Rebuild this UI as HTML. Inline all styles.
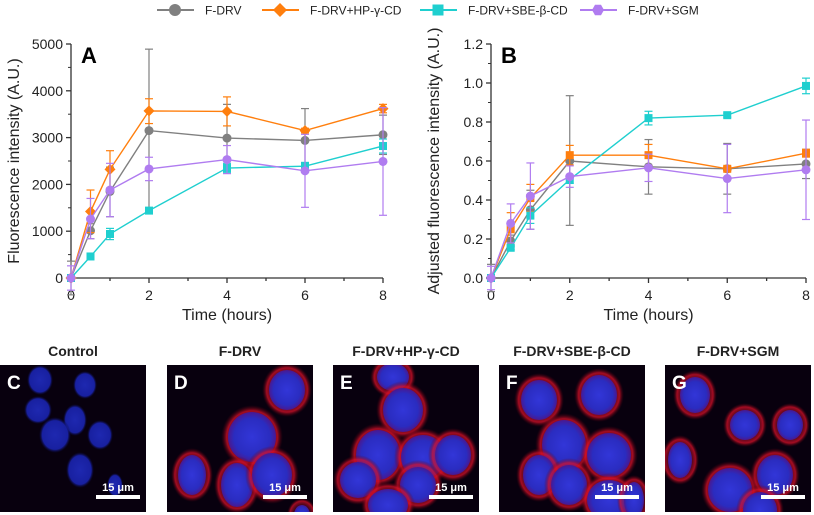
<!DOCTYPE html>
<html><head><meta charset="utf-8"><style>
html,body{margin:0;padding:0;background:#fff;width:814px;height:515px;overflow:hidden}
svg{display:block;font-family:"Liberation Sans",Arial,sans-serif}
</style></head><body>
<svg id="s" width="814" height="515" xmlns="http://www.w3.org/2000/svg">
<defs>
<radialGradient id="cb" cx="50%" cy="50%" r="50%"><stop offset="0" stop-color="#3236d8"/><stop offset="0.75" stop-color="#2a2cc0"/><stop offset="1" stop-color="#4a1890"/></radialGradient>
<radialGradient id="cr" cx="50%" cy="50%" r="50%"><stop offset="0.55" stop-color="#b01030" stop-opacity="0.3"/><stop offset="0.82" stop-color="#d81028" stop-opacity="0.75"/><stop offset="1" stop-color="#500010" stop-opacity="0"/></radialGradient>
<radialGradient id="cc" cx="50%" cy="50%" r="50%"><stop offset="0" stop-color="#1e28b0"/><stop offset="0.8" stop-color="#1820a0"/><stop offset="1" stop-color="#0a0a40" stop-opacity="0"/></radialGradient>
</defs>
</svg>
<script>
const s=document.getElementById('s');let h='';
const C={g:'#808080',o:'#ff7f0e',c:'#1fcfcf',p:'#b07cf0'};
function mk(type,x,y,col,r){r=r||5;
 if(type=='c')return `<circle cx="${x}" cy="${y}" r="${r}" fill="${col}"/>`;
 if(type=='d')return `<polygon points="${x},${y-r-1} ${x+r+1},${y} ${x},${y+r+1} ${x-r-1},${y}" fill="${col}"/>`;
 if(type=='s')return `<rect x="${x-r+0.5}" y="${y-r+0.5}" width="${2*r-1}" height="${2*r-1}" fill="${col}"/>`;
 if(type=='h'){let p=[];for(let i=0;i<6;i++){let a=Math.PI/3*i;p.push((x+r*Math.cos(a))+','+(y+r*Math.sin(a)))}return `<polygon points="${p.join(' ')}" fill="${col}"/>`;}
}
[[157,'c',C.g,'F-DRV'],[262,'d',C.o,'F-DRV+HP-γ-CD'],[420,'s',C.c,'F-DRV+SBE-β-CD'],[580,'h',C.p,'F-DRV+SGM']].forEach(l=>{
 h+=`<line x1="${l[0]}" y1="10" x2="${l[0]+37}" y2="10" stroke="${l[2]}" stroke-width="2"/>`+mk(l[1],l[0]+18,10,l[2],6);
 h+=`<text x="${l[0]+48}" y="14.5" font-size="12" fill="#222">${l[3]}</text>`;});
const T=[0,0.5,1,2,4,6,8];
function plot(x0,x1,ymax,ticks,dec,lab,letter,series,ylabel){
 const y0=278,y1=44;const X=t=>x0+(x1-x0)*t/8,Y=v=>y0-(y0-y1)*v/ymax;
 h+=`<line x1="${x0}" y1="${y1}" x2="${x0}" y2="${y0}" stroke="#333" stroke-width="1.3"/><line x1="${x0}" y1="${y0}" x2="${x1}" y2="${y0}" stroke="#333" stroke-width="1.3"/>`;
 ticks.forEach((v,i)=>{let y=Y(v);h+=`<line x1="${x0-5}" y1="${y}" x2="${x0}" y2="${y}" stroke="#333" stroke-width="1.3"/><text x="${x0-8}" y="${y+5}" font-size="14" text-anchor="end" fill="#222">${dec?v.toFixed(1):v}</text>`;
  if(i<ticks.length-1){let ym=Y(v+(ticks[1]-ticks[0])/2);h+=`<line x1="${x0-3}" y1="${ym}" x2="${x0}" y2="${ym}" stroke="#333"/>`;}});
 for(let t=0;t<=8;t++){let x=X(t);h+=`<line x1="${x}" y1="${y0}" x2="${x}" y2="${y0+(t%2?3:5)}" stroke="#333" stroke-width="1.3"/>`;if(t%2==0)h+=`<text x="${x}" y="${y0+22}" font-size="14" text-anchor="middle" fill="#222">${t}</text>`;}
 h+=`<text x="${(x0+x1)/2}" y="320" font-size="16" text-anchor="middle" fill="#222">Time (hours)</text>`;
 h+=`<text transform="translate(${x0-52},${(y0+y1)/2}) rotate(-90)" font-size="16" text-anchor="middle" fill="#222">${ylabel}</text>`;
 h+=`<text x="${x0+10}" y="${y1+19}" font-size="22" font-weight="bold" fill="#000">${letter}</text>`;
 series.forEach(sr=>{const [col,type,vals,err]=sr;
  vals.forEach((v,i)=>{let e=err[i];if(!e)return;let x=X(T[i]);h+=`<g stroke="${col}" stroke-width="1.2"><line x1="${x}" y1="${Y(v-e[0])}" x2="${x}" y2="${Y(v+e[1])}"/><line x1="${x-4}" y1="${Y(v-e[0])}" x2="${x+4}" y2="${Y(v-e[0])}"/><line x1="${x-4}" y1="${Y(v+e[1])}" x2="${x+4}" y2="${Y(v+e[1])}"/></g>`;});
  h+=`<polyline fill="none" stroke="${col}" stroke-width="1.4" points="${vals.map((v,i)=>X(T[i])+','+Y(v)).join(' ')}"/>`;
  vals.forEach((v,i)=>h+=mk(type,X(T[i]),Y(v),col,4.5));});
}
plot(71,383,5000,[0,1000,2000,3000,4000,5000],false,'','A',[
 [C.g,'c',[0,1010,1850,3150,2990,2940,3060],[[360,360],[170,150],[540,520],[1700,1740],[750,720],[680,680],[420,420]]],
 [C.o,'d',[0,1420,2320,3570,3560,3150,3620],[[50,50],[450,460],[400,400],[270,260],[310,310],[50,50],[90,90]]],
 [C.c,'s',[0,460,940,1440,2350,2390,2820],[[30,30],[40,40],[120,120],[40,40],[100,100],[80,80],[150,150]]],
 [C.p,'c',[0,1260,1880,2330,2530,2290,2490],[[260,260],[420,440],[570,570],[250,250],[300,300],[780,780],[1150,1150]]]
],'Fluorescence intensity (A.U.)');
plot(491,806,1.2,[0,0.2,0.4,0.6,0.8,1.0,1.2],true,'','B',[
 [C.g,'c',[0,0.19,0.35,0.6,0.57,0.56,0.585],[[0.07,0.07],[0.03,0.03],[0.1,0.1],[0.33,0.335],[0.14,0.14],[0.13,0.13],[0.075,0.075]]],
 [C.o,'s',[0,0.25,0.41,0.63,0.63,0.56,0.64],[[0.01,0.01],[0.08,0.085],[0.07,0.07],[0.05,0.05],[0.055,0.055],[0.01,0.01],[0.02,0.02]]],
 [C.c,'s',[0,0.155,0.32,0.505,0.82,0.835,0.985],[[0.01,0.01],[0.01,0.01],[0.04,0.04],[0.02,0.02],[0.035,0.035],[0.01,0.01],[0.04,0.04]]],
 [C.p,'c',[0,0.28,0.42,0.52,0.565,0.51,0.555],[[0.06,0.06],[0.1,0.1],[0.17,0.17],[0.055,0.055],[0.07,0.07],[0.175,0.175],[0.255,0.255]]]
],'Adjusted fluorescence intensity (A.U.)');
const P=[[0,'Control','C'],[167,'F-DRV','D'],[333,'F-DRV+HP-γ-CD','E'],[499,'F-DRV+SBE-β-CD','F'],[665,'F-DRV+SGM','G']];
const cells=[
 [[40,15,13,15],[85,20,12,14],[38,45,14,14],[75,55,12,16],[55,70,16,18],[100,70,13,15],[80,105,14,18],[115,120,8,12]],
 [[120,25,18,20],[85,72,24,25],[25,110,14,20],[70,120,16,22],[105,110,20,22],[135,150,8,10]],
 [[60,12,16,14],[70,45,20,22],[45,90,22,25],[90,92,22,22],[85,120,18,18],[25,115,18,18],[55,140,20,16],[120,90,18,20]],
 [[40,35,18,20],[100,30,18,20],[65,80,22,25],[110,90,22,22],[40,110,16,20],[70,120,18,20],[110,135,22,20],[135,135,10,18]],
 [[30,30,15,18],[80,60,15,15],[125,60,13,15],[15,95,12,18],[65,125,22,22],[110,110,18,20],[95,145,17,18]]];
P.forEach((p,k)=>{const x=p[0],y=365,w=146,hh=147;
 h+=`<text x="${x+73}" y="356" font-size="14" font-weight="bold" text-anchor="middle" fill="#222">${p[1]}</text>`;
 h+=`<svg x="${x}" y="${y}" width="${w}" height="${hh}"><rect width="${w}" height="${hh}" fill="#08000e"/>`;
 cells[k].forEach(c=>{if(k>0)h+=`<ellipse cx="${c[0]}" cy="${c[1]}" rx="${c[2]+7}" ry="${c[3]+7}" fill="url(#cr)"/>`;
  h+=`<ellipse cx="${c[0]}" cy="${c[1]}" rx="${c[2]}" ry="${c[3]}" fill="url(#${k?'cb':'cc'})"/>`;});
 h+=`<text x="7" y="24" font-size="19" font-weight="bold" fill="#fff">${p[2]}</text>`;
 h+=`<rect x="96" y="130" width="44" height="4" fill="#fff"/><text x="118" y="126" font-size="11" font-weight="bold" text-anchor="middle" fill="#fff">15 μm</text></svg>`;});
s.insertAdjacentHTML('beforeend',h);
</script>
</body></html>
